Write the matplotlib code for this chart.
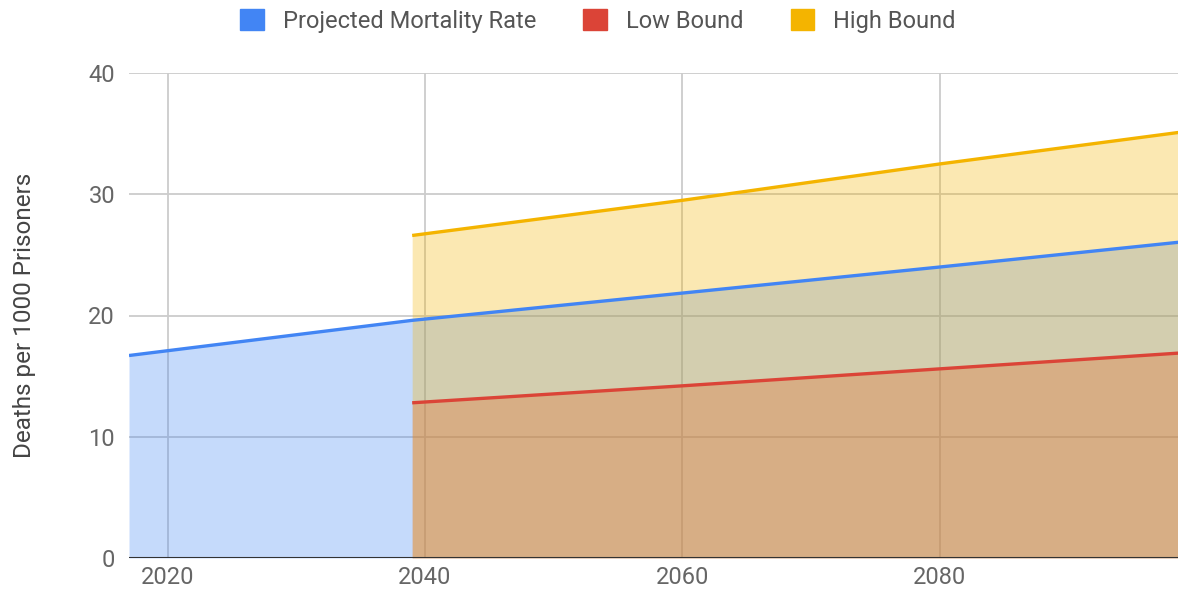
import numpy as np
import matplotlib
matplotlib.use('Agg')
import matplotlib.pyplot as plt
from matplotlib.patches import Patch

plt.rcParams['font.family'] = ['Roboto', 'DejaVu Sans']

# data
years = [2017, 2039, 2060, 2080, 2100]
projected = [16.7, 19.6, 21.85, 24.0, 26.2]
low_bound = [np.nan, 12.8, 14.2, 15.6, 17.0]
high_bound = [np.nan, 26.6, 29.5, 32.5, 35.3]

series = [('Projected Mortality Rate', projected, '#4285f4'),
          ('Low Bound', low_bound, '#db4437'),
          ('High Bound', high_bound, '#f4b400')]

fig = plt.figure(figsize=(11.78, 5.92), dpi=100)
ax = fig.add_axes([129/1178, 1-558/592, 1-129/1178, (558-73)/592])

x = np.array(years, dtype=float)
for name, vals, col in series:
    y = np.array(vals, dtype=float)
    ax.fill_between(x, 0, y, color=col, alpha=0.3, linewidth=0, zorder=2)
for name, vals, col in series:
    ax.plot(x, vals, color=col, lw=2.4, solid_capstyle='butt', zorder=3)

ax.set_xlim(2017, 2098.5)
ax.set_ylim(0, 40)
ax.set_xticks([2020, 2040, 2060, 2080])
ax.set_yticks([0, 10, 20, 30, 40])
ax.grid(True, color='#cccccc', lw=1.3, zorder=0)
ax.set_axisbelow(True)
for s in ax.spines.values():
    s.set_visible(False)
ax.axhline(0, color='#333333', lw=1.5, zorder=5)
ax.tick_params(length=0, labelsize=17, colors='#666666')
ax.tick_params(axis='y', pad=10)
ax.tick_params(axis='x', pad=6)
ax.set_ylabel('Deaths per 1000 Prisoners', fontsize=17.5, color='#444444', labelpad=38)

handles = [Patch(facecolor=c, edgecolor=c) for _, _, c in series]
fig.legend(handles, [n for n, _, _ in series], loc='center', bbox_to_anchor=(598/1178, 1-21/592),
           ncol=3, frameon=False, fontsize=17, labelcolor='#555555',
           handlelength=1.0, handleheight=1.0, columnspacing=2.0, handletextpad=0.8)

fig.savefig('out.png', dpi=100)
